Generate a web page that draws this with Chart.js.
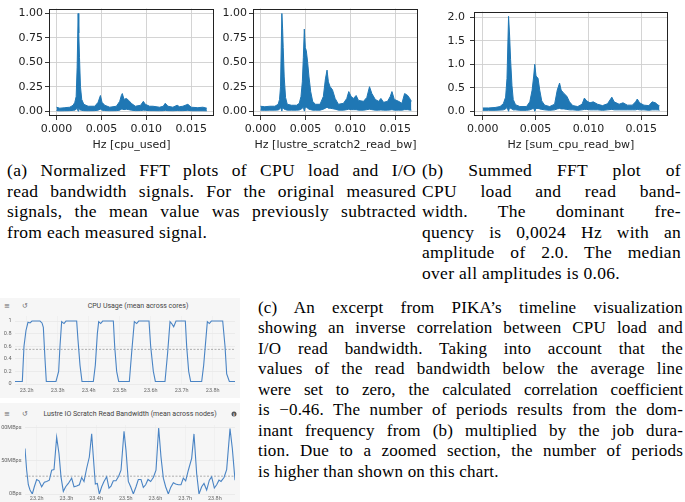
<!DOCTYPE html>
<html><head><meta charset="utf-8">
<script src="https://cdn.jsdelivr.net/npm/chart.js@4.4.0/dist/chart.umd.min.js"></script>
<style>
html,body{margin:0;padding:0;background:#fff;width:685px;height:502px;overflow:hidden}
body{position:relative}
canvas{position:absolute}
.cap{position:absolute;font-family:"Liberation Serif","Times New Roman",serif;font-size:17px;color:#000;line-height:20.5px}
.cap div{text-align:justify;text-align-last:justify;white-space:nowrap}
.cap div.last{text-align:left;text-align-last:left}
.capab{letter-spacing:0.3px;font-size:17.5px}
.capc{letter-spacing:0.2px}
.panel{position:absolute;background:#f6f6f6}
.ptitle{position:absolute;font-family:Roboto,"Liberation Sans",sans-serif;font-size:7px;color:#444;white-space:nowrap;transform:translate(-50%,-50%)}
.icon{position:absolute;font-family:"DejaVu Sans",sans-serif;font-size:7px;color:#666;transform:translate(-50%,-50%)}
.info{position:absolute;width:5px;height:5px;border-radius:50%;background:#555;color:#fff;font:bold 4px "DejaVu Sans",sans-serif;text-align:center;line-height:5px;transform:translate(-50%,-50%)}
</style></head><body>
<canvas id="f1" width="218" height="152" style="left:0;top:0"></canvas>
<canvas id="f2" width="206" height="152" style="left:216px;top:0"></canvas>
<canvas id="f3" width="257" height="152" style="left:428px;top:0"></canvas>

<div class="cap capab" style="left:7px;top:160px;width:409px">
<div>(a) Normalized FFT plots of CPU load and I/O</div>
<div>read bandwidth signals. For the original measured</div>
<div>signals, the mean value was previously subtracted</div>
<div class="last">from each measured signal.</div>
</div>
<div class="cap capab" style="left:422px;top:160px;width:259px">
<div>(b) Summed FFT plot of</div>
<div>CPU load and read band-</div>
<div>width. The dominant fre-</div>
<div>quency is 0,0024 Hz with an</div>
<div>amplitude of 2.0. The median</div>
<div class="last">over all amplitudes is 0.06.</div>
</div>

<div class="panel" style="left:0;top:298px;width:240px;height:100px"></div>
<div class="panel" style="left:0;top:403px;width:240px;height:99px"></div>
<div class="ptitle" style="left:138px;top:306px">CPU Usage (mean across cores)</div>
<div class="icon" style="left:7px;top:306px">≡</div>
<div class="icon" style="left:25px;top:306px">↺</div>
<div class="ptitle" style="left:130px;top:414px">Lustre IO Scratch Read Bandwidth (mean across nodes)</div>
<div class="icon" style="left:7px;top:414px">≡</div>
<div class="icon" style="left:25px;top:414px">↺</div>
<div class="info" style="left:234px;top:414px">i</div>
<canvas id="t1" width="240" height="101" style="left:0;top:296px"></canvas>
<canvas id="t2" width="240" height="100" style="left:0;top:402px"></canvas>

<div class="cap capc" style="left:258px;top:297.5px;width:425px">
<div>(c) An excerpt from PIKA’s timeline visualization</div>
<div>showing an inverse correlation between CPU load and</div>
<div>I/O read bandwidth. Taking into account that the</div>
<div>values of the read bandwidth below the average line</div>
<div style="letter-spacing:0">were set to zero, the calculated correlation coefficient</div>
<div>is −0.46. The number of periods results from the dom-</div>
<div>inant frequency from (b) multiplied by the job dura-</div>
<div>tion. Due to a zoomed section, the number of periods</div>
<div class="last">is higher than shown on this chart.</div>
</div>

<script>
// ---------- (a) FFT of cpu_used (envelope of the dense spectrum) ----------
const cpuFreq = [0,0.00037,0.00093,0.00148,0.00185,0.00204,0.00219,0.0023,0.00241,0.00248,0.00256,0.00267,0.00281,0.00304,0.00352,0.00426,0.00463,0.00489,0.00507,0.00537,0.00593,0.00667,0.00704,0.00722,0.00733,0.00752,0.00778,0.00804,0.00833,0.00878,0.00937,0.00967,0.00989,0.01037,0.01074,0.01148,0.01189,0.01211,0.01241,0.01296,0.01344,0.0137,0.01407,0.01463,0.015,0.01574,0.0163,0.01674];
const cpuAmpHigh = [0.04,0.03,0.035,0.04,0.06,0.09,0.15,0.45,1.00,0.80,0.55,0.25,0.12,0.07,0.05,0.05,0.09,0.16,0.09,0.06,0.04,0.05,0.10,0.16,0.18,0.12,0.13,0.11,0.08,0.05,0.06,0.10,0.07,0.05,0.05,0.04,0.05,0.08,0.05,0.04,0.06,0.045,0.05,0.07,0.04,0.035,0.04,0.03];
const cpuAmpLow = [0.005,0.003,0.004,0.005,0.008,0.01,0.02,0.03,0.0,0.03,0.02,0.01,0.008,0.005,0.004,0.005,0.01,0.02,0.01,0.006,0.004,0.005,0.01,0.02,0.02,0.015,0.02,0.015,0.01,0.005,0.006,0.01,0.008,0.005,0.005,0.004,0.005,0.008,0.005,0.004,0.006,0.005,0.005,0.008,0.004,0.004,0.004,0.003];

// ---------- (a) FFT of lustre_scratch2_read_bw ----------
const bwFreq = [0,0.00048,0.00104,0.0016,0.00197,0.00212,0.00223,0.00238,0.00246,0.00253,0.00264,0.00279,0.00298,0.00346,0.00402,0.00432,0.00451,0.00466,0.00477,0.00488,0.00499,0.0051,0.00525,0.0054,0.00559,0.00581,0.00611,0.00663,0.007,0.00723,0.00741,0.00756,0.00775,0.00801,0.00831,0.00868,0.00924,0.00961,0.00983,0.01009,0.01035,0.01065,0.01091,0.01147,0.01184,0.01214,0.0124,0.01278,0.01315,0.01341,0.01371,0.01415,0.01445,0.01464,0.0149,0.01538,0.01575,0.01605,0.01639,0.01669,0.0168];
const bwAmpHigh = [0.05,0.045,0.05,0.05,0.07,0.12,0.25,1.0,0.85,0.65,0.35,0.14,0.07,0.06,0.06,0.08,0.15,0.3,0.55,0.84,0.65,0.62,0.5,0.35,0.2,0.1,0.07,0.07,0.15,0.33,0.42,0.3,0.25,0.22,0.13,0.07,0.08,0.13,0.2,0.15,0.13,0.16,0.11,0.1,0.14,0.25,0.18,0.12,0.1,0.13,0.09,0.1,0.15,0.2,0.12,0.1,0.08,0.18,0.16,0.12,0.1];
const bwAmpLow = [0.01,0.008,0.01,0.01,0.012,0.02,0.04,0.0,0.04,0.03,0.02,0.015,0.01,0.01,0.01,0.012,0.02,0.03,0.04,0.0,0.04,0.04,0.03,0.02,0.015,0.01,0.01,0.01,0.02,0.03,0.04,0.03,0.03,0.025,0.02,0.01,0.01,0.015,0.02,0.015,0.015,0.015,0.01,0.01,0.015,0.02,0.015,0.01,0.01,0.012,0.01,0.01,0.012,0.015,0.01,0.01,0.01,0.015,0.015,0.01,0.01];

// ---------- (b) summed FFT sum_cpu_read_bw ----------
const sumFreq = [0,0.00053,0.00116,0.00163,0.00194,0.00216,0.00229,0.00244,0.00254,0.00263,0.00276,0.00288,0.0031,0.00351,0.00414,0.00445,0.00467,0.00482,0.00492,0.00504,0.00523,0.00539,0.00558,0.00586,0.00633,0.0068,0.00705,0.00727,0.00742,0.00768,0.00796,0.00821,0.00852,0.00899,0.0094,0.00962,0.00984,0.01015,0.01046,0.01087,0.01134,0.01181,0.01222,0.01244,0.01291,0.01328,0.01369,0.01416,0.01447,0.01463,0.01485,0.01526,0.01573,0.01604,0.01635,0.0166,0.01673];
const sumAmpHigh = [0.07,0.07,0.08,0.1,0.16,0.3,0.7,2.02,1.6,1.1,0.55,0.25,0.14,0.1,0.1,0.2,0.45,0.75,1.0,0.75,0.7,0.45,0.22,0.13,0.1,0.15,0.45,0.6,0.45,0.38,0.32,0.2,0.12,0.1,0.15,0.28,0.22,0.18,0.2,0.15,0.12,0.16,0.3,0.2,0.15,0.18,0.13,0.13,0.2,0.26,0.18,0.13,0.12,0.2,0.18,0.13,0.12];
const sumAmpLow = [0.02,0.02,0.02,0.025,0.03,0.05,0.08,0.0,0.08,0.06,0.05,0.03,0.03,0.02,0.02,0.03,0.05,0.06,0.0,0.06,0.06,0.05,0.04,0.03,0.02,0.03,0.05,0.06,0.05,0.05,0.04,0.03,0.03,0.02,0.03,0.04,0.04,0.03,0.03,0.03,0.02,0.03,0.04,0.03,0.03,0.03,0.03,0.03,0.03,0.04,0.03,0.03,0.02,0.03,0.03,0.03,0.02];

const freqTicks = [0, 0.005, 0.010, 0.015];
const normTicks = [0, 0.25, 0.5, 0.75, 1.0];
const sumTicks = [0, 0.5, 1.0, 1.5, 2.0];

// ---------- (c) PIKA timeline ----------
const cpuHours = [23.1624,23.186,23.1914,23.1978,23.2043,23.2108,23.2172,23.243,23.2495,23.2538,23.2591,23.2634,
23.2946,23.3032,23.3075,23.3129,23.3204,23.3269,23.3613,23.3656,23.372,23.3785,
23.4151,23.4215,23.428,23.4323,23.4387,23.4452,23.4796,23.4839,23.4903,23.4968,
23.5312,23.5387,23.5473,23.5548,23.5613,23.5946,23.6,23.6086,23.6151,
23.6462,23.6548,23.6624,23.6677,23.6742,23.6817,23.7118,23.7161,23.7226,23.729,
23.7645,23.771,23.7828,23.7892,23.7957,23.8323,23.8398,23.8452,23.8538,23.872];
const cpuLoad = [0.04,0.04,0.6,0.85,0.98,0.97,1,1,0.97,0.9,0.4,0.04,
0.04,0.2,0.6,0.99,0.96,1,1,0.7,0.3,0.04,
0.04,0.3,0.8,0.99,0.96,1,1,0.6,0.2,0.04,
0.04,0.5,0.99,0.96,1,1,0.6,0.2,0.04,
0.04,0.5,0.99,0.96,0.91,1,1,0.6,0.2,0.04,
0.04,0.3,0.99,0.96,1,1,0.6,0.16,0.04,0.04];
const cpuAverage = 0.55;
const cpuTicks = [0, 0.2, 0.4, 0.6, 0.8, 1];

const ioHours = [23.1607,23.1663,23.1719,23.1776,23.1854,23.1921,23.2,23.2079,23.2168,23.2258,23.2337,23.2426,23.2505,23.2584,23.2673,23.2752,23.2819,23.2898,23.2976,23.3066,23.3178,23.3257,23.3347,23.3437,23.3515,23.3594,23.3684,23.3773,23.3852,23.3908,23.3975,23.4043,23.411,23.4189,23.4267,23.4357,23.4435,23.4503,23.4581,23.4671,23.4761,23.484,23.4941,23.5008,23.5086,23.5165,23.5255,23.5345,23.5423,23.5513,23.5591,23.567,23.5749,23.5838,23.5928,23.6018,23.6108,23.6186,23.6265,23.6343,23.6433,23.6512,23.6602,23.668,23.677,23.686,23.6938,23.7017,23.7107,23.7219,23.7297,23.7387,23.7466,23.7556,23.7634,23.7724,23.7814,23.7892,23.7982,23.8061,23.8139,23.8207,23.8308,23.8397,23.851,23.8588,23.8678];
const ioMBps = [69,36,14,6,0,11,22,20,11,18,19,21,36,37,86,61,26,4,11,16,24,11,12,14,25,19,39,56,91,56,15,16,0,11,19,26,9,12,20,20,27,36,95,66,19,11,0,11,22,22,10,14,22,19,25,36,100,56,24,11,0,10,17,15,14,14,24,20,36,54,91,31,0,11,16,6,21,26,9,14,21,19,25,37,99,69,21];
const ioAverage = 27;
const ioTicks = [0, 50, 100];
const ioTickLabels = {0:'0Bps', 50:'50MBps', 100:'100MBps'};
const hourTicks = [23.2, 23.3, 23.4, 23.5, 23.6, 23.7, 23.8];

// ---------- helpers ----------
const frame = {id:'frame', afterDatasetsDraw(c){const a=c.chartArea,x=c.ctx;x.save();x.strokeStyle='#222';x.lineWidth=1;
  x.strokeRect(Math.round(a.left)+0.5,Math.round(a.top)+0.5,Math.round(a.right)-Math.round(a.left)-1,Math.round(a.bottom)-Math.round(a.top)-1);x.restore();}};
const pts = (xs, ys) => xs.map((v,i)=>({x:v, y:ys[i]}));
const blue = '#1f77b4';
const mplFont = {family:'"DejaVu Sans", sans-serif', size:11};

function fft(id, freq, hi, lo, yMin, yMax, yTicks, dec, title, yWidth, padRight, yPad){
  new Chart(document.getElementById(id), {
    type:'line',
    data:{datasets:[
      {data:pts(freq,lo), borderColor:blue, backgroundColor:blue, borderWidth:1, pointRadius:0, fill:false},
      {data:pts(freq,hi), borderColor:blue, backgroundColor:blue, borderWidth:1, pointRadius:0, fill:'-1'}
    ]},
    options:{responsive:false, animation:false, events:[],
      layout:{padding:{left:0, top:1, right:padRight, bottom:0}},
      plugins:{legend:{display:false}, tooltip:{enabled:false}},
      scales:{
        x:{type:'linear', min:-0.000835, max:0.01754,
          afterBuildTicks:s=>{s.ticks=freqTicks.map(v=>({value:v}));},
          afterFit:s=>{s.height=36;},
          grid:{color:'#cfcfcf', lineWidth:0.9, tickColor:'#222', tickLength:4},
          border:{display:false},
          ticks:{color:'#222', font:mplFont, padding:3, maxRotation:0, autoSkip:false, callback:v=>v.toFixed(3)},
          title:{display:true, text:title, color:'#222', font:mplFont, padding:{top:0,bottom:0}}},
        y:{min:yMin, max:yMax,
          afterBuildTicks:s=>{s.ticks=yTicks.map(v=>({value:v}));},
          afterFit:s=>{s.width=yWidth;},
          grid:{color:'#cfcfcf', lineWidth:0.9, tickColor:'#222', tickLength:4},
          border:{display:false},
          ticks:{color:'#222', font:mplFont, padding:yPad, callback:v=>v.toFixed(dec)}}
      }},
    plugins:[frame]
  });
}
fft('f1', cpuFreq, cpuAmpHigh, cpuAmpLow, -0.05, 1.05, normTicks, 2, 'Hz [cpu_used]', 49, 4, 2);
fft('f2', bwFreq, bwAmpHigh, bwAmpLow, -0.05, 1.05, normTicks, 2, 'Hz [lustre_scratch2_read_bw]', 37, 4, 2);
fft('f3', sumFreq, sumAmpHigh, sumAmpLow, -0.101, 2.121, sumTicks, 1, 'Hz [sum_cpu_read_bw]', 46, 17, 5);

const smallFont = {family:'Roboto, "Liberation Sans", sans-serif', size:5.5};
const lineBlue = '#4a84c4';
function timeline(id, hours, vals, avg, yMax, yTicks, yLabel, yWidth, padTop, xHeight, xPad){
  const x0 = hours[0], x1 = hours[hours.length-1];
  new Chart(document.getElementById(id), {
    type:'line',
    data:{datasets:[
      {data:pts(hours, vals), borderColor:lineBlue, borderWidth:1.1, pointRadius:0, fill:false},
      {data:[{x:x0,y:avg},{x:x1,y:avg}], borderColor:'#9a9a9a', borderWidth:0.8, borderDash:[2,1.5], pointRadius:0, fill:false}
    ]},
    options:{responsive:false, animation:false, events:[],
      layout:{padding:{left:0, top:padTop, right:5, bottom:0}},
      plugins:{legend:{display:false}, tooltip:{enabled:false}},
      scales:{
        x:{type:'linear', min:x0, max:x1,
          afterBuildTicks:s=>{s.ticks=hourTicks.map(v=>({value:v}));},
          afterFit:s=>{s.height=xHeight;},
          grid:{color:'#ececec', lineWidth:0.6, drawTicks:false},
          border:{display:false},
          ticks:{color:'#666', font:smallFont, padding:xPad, maxRotation:0, autoSkip:false, callback:v=>v.toFixed(1)+'h'}},
        y:{min:0, max:yMax,
          afterBuildTicks:s=>{s.ticks=yTicks.map(v=>({value:v}));},
          afterFit:s=>{s.width=yWidth;},
          grid:{color:'#e4e4e4', lineWidth:0.6, drawTicks:false},
          border:{display:false},
          ticks:{color:'#666', font:smallFont, padding:3.5, callback:yLabel}}
      }}
  });
}
timeline('t1', cpuHours, cpuLoad, cpuAverage, 1.08, cpuTicks, v=>String(v), 15, 20, 13, 3);
timeline('t2', ioHours, ioMBps, ioAverage, 104.5, ioTicks, v=>ioTickLabels[v], 25, 23, 8, 1.5);
</script>
</body></html>
